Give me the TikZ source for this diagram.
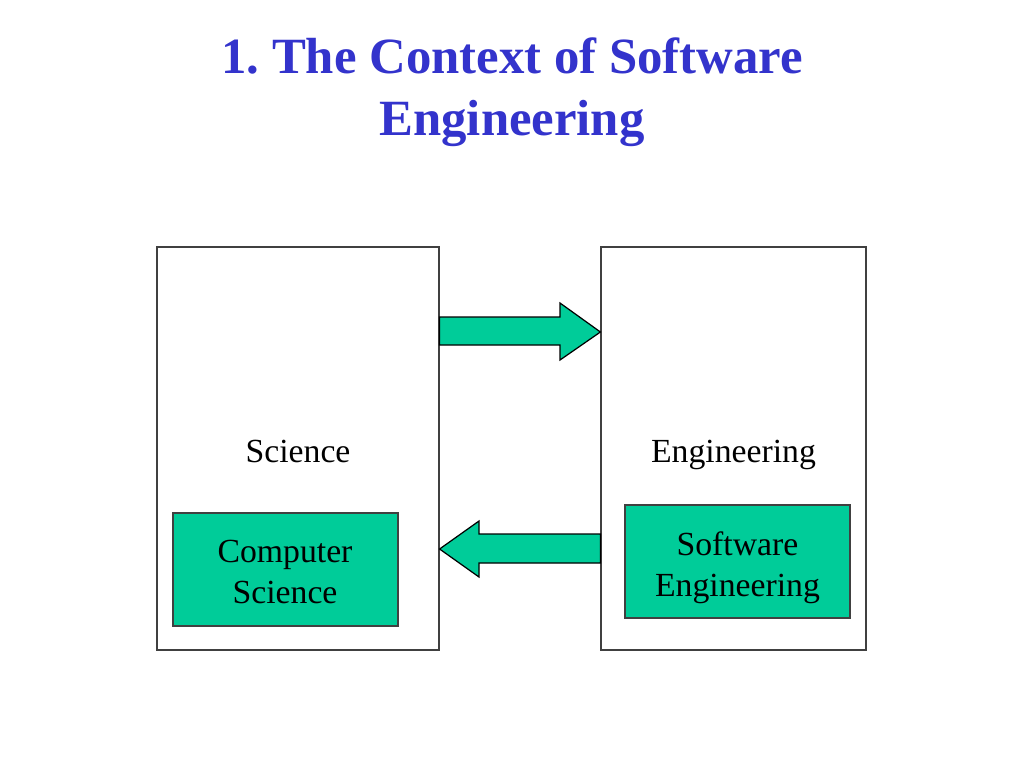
\documentclass[tikz,border=0pt]{standalone}
\usepackage{fontspec}
\setmainfont{Liberation Serif}
\frenchspacing
\begin{document}
\begin{tikzpicture}[x=0.02cm,y=-0.02cm]
%
\definecolor{col_title}{rgb}{0.2,0.2,0.8}
\definecolor{col_fill}{rgb}{0.0,0.8,0.6}
\definecolor{col_line}{rgb}{0.25,0.25,0.25}
%
\tikzset{
  fieldbox/.style={draw=col_line,line width=0.7pt,inner sep=0pt},
  subbox/.style={draw=col_line,line width=0.7pt,fill=col_fill,inner sep=0pt,
    minimum width=4.5cm,minimum height=2.26cm},
  fieldlab/.style={anchor=base,inner sep=0pt,align=center,
    font=\fontsize{19.2}{23.2}\selectfont},
  blockarrow/.style={draw=black,line width=0.7pt,fill=col_fill,line join=miter}
}
%
\useasboundingbox (0,0) rectangle (1024,768);
%
\node[align=center,text=col_title,inner sep=0pt,anchor=base,
  font=\fontsize{28.9}{35}\selectfont\bfseries] (title) at (512,135)
  {1. The Context of Software\\Engineering};
%
\node[fieldbox,minimum width=5.64cm,minimum height=8.06cm] (sci) at (298,448.5) {};
\node[fieldbox,minimum width=5.30cm,minimum height=8.06cm] (eng) at (733.5,448.5) {};
%
\node[fieldlab] (scilab) at (298,462) {Science};
\node[fieldlab] (englab) at (733.5,462) {Engineering};
%
\node[subbox] (cs) at (285.5,569.5) {};
\node[subbox] (se) at (737.5,561.5) {};
\node[fieldlab] (cslab) at (285,603) {Computer\\Science};
\node[fieldlab] (selab) at (737.5,596) {Software\\Engineering};
%
% science -> engineering
\draw[blockarrow] (sci.east |- 0,317) -- (560,317) -- (560,303)
  -- (eng.west |- 0,332) -- (560,360) -- (560,345)
  -- (sci.east |- 0,345) -- cycle;
% engineering -> science
\draw[blockarrow] (eng.west |- 0,534) -- (479,534) -- (479,521)
  -- (sci.east |- 0,549) -- (479,577) -- (479,563)
  -- (eng.west |- 0,563) -- cycle;
%
\end{tikzpicture}
\end{document}
